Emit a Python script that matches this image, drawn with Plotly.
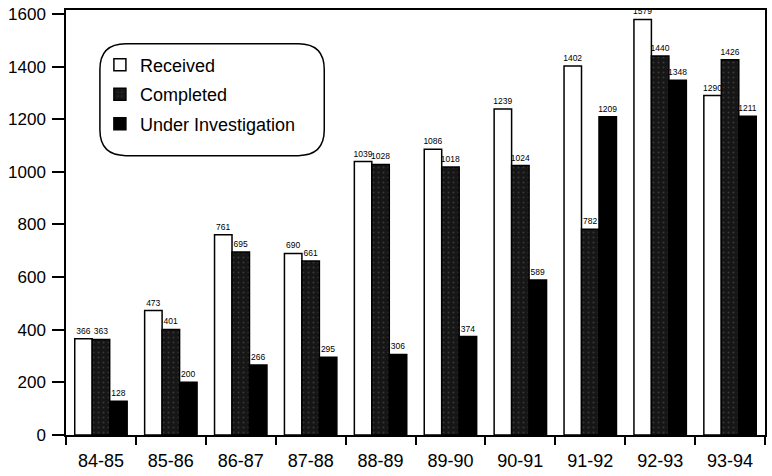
import plotly.graph_objects as go

years = ["84-85", "85-86", "86-87", "87-88", "88-89", "89-90", "90-91", "91-92", "92-93", "93-94"]
received = [366, 473, 761, 690, 1039, 1086, 1239, 1402, 1579, 1290]
completed = [363, 401, 695, 661, 1028, 1018, 1024, 782, 1440, 1426]
under_investigation = [128, 200, 266, 295, 306, 374, 589, 1209, 1348, 1211]

W, H = 772, 476
ML, MR, MT, MB = 66, 5, 6, 41
PW, PH = W - ML - MR, H - MT - MB

label_font = dict(family="Liberation Sans, Arial, sans-serif", size=8.5, color="black")

fig = go.Figure()
fig.add_trace(go.Bar(
    name="Received", x=years, y=received, legendgroup="r",
    marker=dict(color="white", line=dict(color="black", width=1.5)),
    text=received, textposition="outside", textfont=label_font,
    constraintext="none", cliponaxis=False,
))
fig.add_trace(go.Bar(
    name="Completed", x=years, y=completed, legendgroup="c",
    marker=dict(color="#161616", line=dict(color="black", width=1.5),
                pattern=dict(shape=".", fgcolor="#5a5a5a", bgcolor="#161616",
                             size=5, solidity=0.12)),
    text=completed, textposition="outside", textfont=label_font,
    constraintext="none", cliponaxis=False,
))
fig.add_trace(go.Bar(
    name="Under Investigation", x=years, y=under_investigation, legendgroup="u",
    marker=dict(color="black", line=dict(color="black", width=1.5)),
    text=under_investigation, textposition="outside", textfont=label_font,
    constraintext="none", cliponaxis=False,
))


def px_to_paper(px, py):
    return (px - ML) / PW, (H - MB - py) / PH


def rounded_box(x0, y0, x1, y1, r):
    # rounded rectangle in pixel space, converted to paper coordinates
    pts = []
    cmds = [
        ("M", [(x0 + r, y0)]),
        ("L", [(x1 - r, y0)]),
        ("Q", [(x1, y0), (x1, y0 + r)]),
        ("L", [(x1, y1 - r)]),
        ("Q", [(x1, y1), (x1 - r, y1)]),
        ("L", [(x0 + r, y1)]),
        ("Q", [(x0, y1), (x0, y1 - r)]),
        ("L", [(x0, y0 + r)]),
        ("Q", [(x0, y0), (x0 + r, y0)]),
    ]
    for c, ps in cmds:
        coords = " ".join("%.5f,%.5f" % px_to_paper(a, b) for a, b in ps)
        pts.append(c + " " + coords)
    return " ".join(pts) + " Z"


fig.add_shape(type="path", xref="paper", yref="paper",
              path=rounded_box(100, 40, 325, 153, 26),
              line=dict(color="black", width=1.5), fillcolor="rgba(0,0,0,0)",
              layer="above")

lx, ly = px_to_paper(100, 43)
fig.update_layout(
    width=W, height=H,
    margin=dict(l=ML, r=MR, t=MT, b=MB),
    paper_bgcolor="white", plot_bgcolor="white",
    barmode="group", bargap=0.25, bargroupgap=0,
    font=dict(family="Liberation Sans, Arial, sans-serif", color="black"),
    showlegend=True,
    legend=dict(x=lx, y=ly, xanchor="left", yanchor="top",
                bgcolor="rgba(0,0,0,0)", borderwidth=0, tracegroupgap=3,
                font=dict(size=18, family="Liberation Sans, Arial, sans-serif")),
    xaxis=dict(type="category", tickson="boundaries", ticks="outside", ticklen=8,
               tickwidth=1.5, tickcolor="black", showline=True, linecolor="black",
               linewidth=1.5, mirror=True, showgrid=False, ticklabelstandoff=9,
               tickfont=dict(size=18)),
    yaxis=dict(range=[0, 1615], tickvals=list(range(0, 1601, 200)), ticks="outside",
               ticklen=12, tickwidth=1.5, tickcolor="black", showline=True,
               linecolor="black", linewidth=1.5, mirror=True, showgrid=False,
               zeroline=False, ticklabelstandoff=3, tickfont=dict(size=17)),
)

fig.write_html("out.html")
